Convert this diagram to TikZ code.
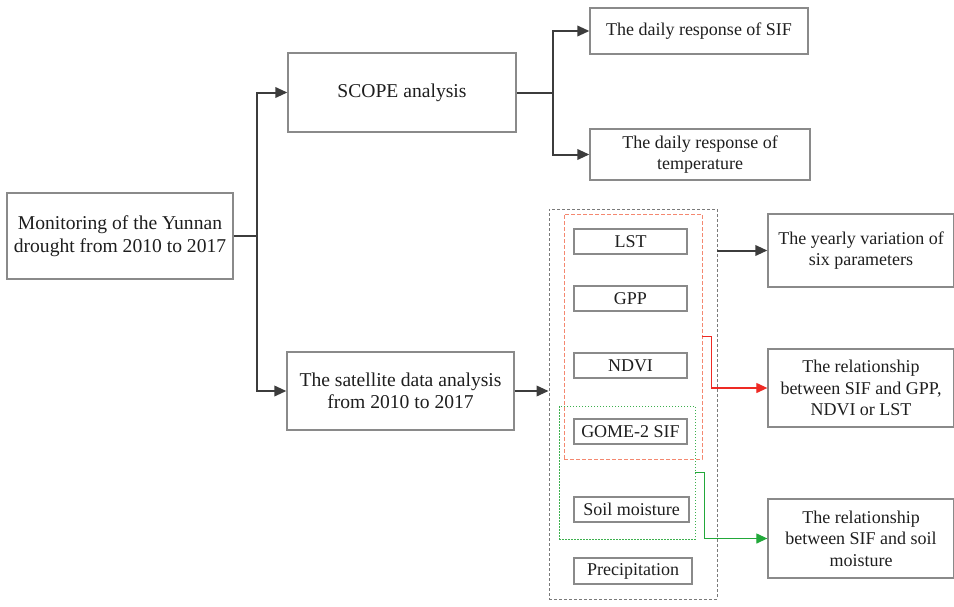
\documentclass[tikz,border=0pt]{standalone}
\usepackage{fontspec}
\setmainfont{Liberation Serif}
\usetikzlibrary{arrows.meta}
\definecolor{boxgray}{HTML}{8A8A8A}
\definecolor{arrgray}{HTML}{3C3C3C}
\definecolor{txt}{HTML}{1E1E1E}
\definecolor{redline}{HTML}{EE2A24}
\definecolor{reddash}{HTML}{F48870}
\definecolor{greenline}{HTML}{22A83A}
\definecolor{greendot}{HTML}{3DB04E}
\definecolor{graydash}{HTML}{7A7A7A}
\tikzset{
  box/.style={draw=boxgray, line width=1.3pt, rectangle, inner sep=0pt, align=center,
    text=txt, font=\fontsize{18}{21.5}\selectfont},
  bigbox/.style={box, font=\fontsize{19.6}{22.5}\selectfont},
  arr/.style={draw=arrgray, line width=2pt, -{Triangle[length=12pt,width=10.5pt]}},
  ln/.style={draw=arrgray, line width=2pt},
  redarr/.style={draw=redline, line width=1.2pt, -{Triangle[length=11pt,width=10pt]}},
  greenarr/.style={draw=greenline, line width=1.2pt, -{Triangle[length=11pt,width=10pt]}},
  frame/.style={rectangle, inner sep=0pt, fill=none},
}
\begin{document}
\begin{tikzpicture}[x=1pt,y=-1pt]
\useasboundingbox (0,0) rectangle (954,606);
% main boxes
\node[bigbox, minimum width=226pt, minimum height=86pt] (main) at (120,236) {Monitoring of the Yunnan\\drought from 2010 to 2017};
\node[bigbox, minimum width=228pt, minimum height=79pt] (scope) at (402,92.5) {SCOPE analysis};
\node[bigbox, minimum width=227pt, minimum height=78pt] (sat) at (400.5,391) {The satellite data analysis\\from 2010 to 2017};
\node[box, minimum width=218pt, minimum height=46pt] (sif) at (699,31) {The daily response of SIF};
\node[box, minimum width=220pt, minimum height=51pt] (temp) at (700,154.5) {The daily response of\\temperature};
\node[box, minimum width=186pt, minimum height=73pt] (six) at (861,250.5) {The yearly variation of\\six parameters};
\node[box, minimum width=186pt, minimum height=78pt] (rel1) at (861,388) {The relationship\\between SIF and GPP,\\NDVI or LST};
\node[box, minimum width=186pt, minimum height=79pt] (rel2) at (861,538.5) {The relationship\\between SIF and soil\\moisture};
% group frames
\node[frame, draw=graydash, line width=0.9pt, dash pattern=on 3pt off 2pt, minimum width=168pt, minimum height=390pt] (gray) at (633,404) {};
\node[frame, draw=reddash, line width=0.9pt, dash pattern=on 4pt off 2pt, minimum width=138pt, minimum height=245pt] (red) at (633,336.5) {};
\node[frame, draw=greendot, line width=0.9pt, dash pattern=on 1.5pt off 1.5pt, minimum width=136pt, minimum height=133pt] (green) at (627,472.5) {};
% inner boxes
\node[box, minimum width=113pt, minimum height=25pt] (lst) at (630.5,241.5) {LST};
\node[box, minimum width=113pt, minimum height=25pt] (gpp) at (630.5,298.5) {GPP};
\node[box, minimum width=113pt, minimum height=25pt] (ndvi) at (630.5,365.5) {NDVI};
\node[box, minimum width=113pt, minimum height=25pt] (gome) at (630.5,431.5) {GOME-2 SIF};
\node[box, minimum width=115pt, minimum height=25pt] (soil) at (631.5,509.5) {Soil moisture};
\node[box, minimum width=118pt, minimum height=26pt] (prec) at (633,571) {Precipitation};
% connectors
\coordinate (j1) at (257,236);
\coordinate (j2) at (553,92.5);
\draw[ln] (main.east) -- (j1);
\draw[arr] (j1) |- (scope.west);
\draw[arr] (j1) |- (sat.west);
\draw[ln] (scope.east) -- (j2);
\draw[arr] (j2) |- (sif.west);
\draw[arr] (j2) |- (temp.west);
\draw[arr] (sat.east) -- (sat.east -| gray.west);
\draw[arr] (six.west -| gray.east) -- (six.west);
\draw[redarr] (red.east) -- ++(9,0) |- (rel1.west);
\draw[greenarr] (green.east) -- ++(9,0) |- (rel2.west);
\end{tikzpicture}
\end{document}
